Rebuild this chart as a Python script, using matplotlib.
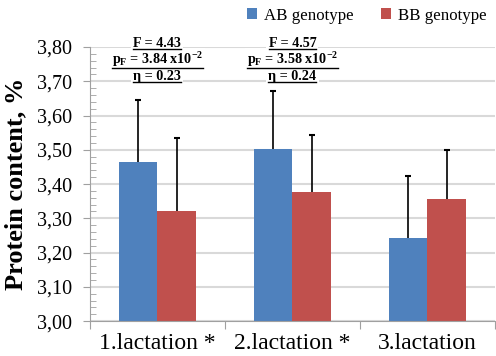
import matplotlib.pyplot as plt
import numpy as np
from matplotlib.lines import Line2D

plt.rcParams['font.family'] = ['Liberation Serif', 'DejaVu Serif']
plt.rcParams['mathtext.fontset'] = 'custom'
plt.rcParams['mathtext.rm'] = 'Liberation Serif'
plt.rcParams['mathtext.bf'] = 'Liberation Serif:bold'
plt.rcParams['mathtext.it'] = 'Liberation Serif:italic'

categories = ['1.lactation *', '2.lactation *', '3.lactation']
ab_vals = [3.464, 3.501, 3.242]
bb_vals = [3.320, 3.376, 3.357]
ab_err = [0.180, 0.170, 0.181]
bb_err = [0.213, 0.167, 0.143]
stats = [
    ['F = 4.43', r'p$_\mathbf{F}$ = 3.84 x10$^{\mathbf{-2}}$', 'η = 0.23'],
    ['F = 4.57', r'p$_\mathbf{F}$ = 3.58 x10$^{\mathbf{-2}}$', 'η = 0.24'],
]
yticks = np.arange(3.0, 3.81, 0.1)

fig = plt.figure(figsize=(4.96, 3.56), dpi=100)
ax = fig.add_axes([0.181, 0.098, 0.817, 0.77])

x = np.arange(len(categories))
w = 0.285
ax.bar(x - w/2, ab_vals, w, color='#4f81bd', label='AB genotype', zorder=2)
ax.bar(x + w/2, bb_vals, w, color='#c0504d', label='BB genotype', zorder=2)
# upper-only error bars
for xs, vals, errs in [(x - w/2, ab_vals, ab_err), (x + w/2, bb_vals, bb_err)]:
    tops = np.array(vals) + np.array(errs)
    ax.vlines(xs, vals, tops, color='black', linewidth=1.2, zorder=3)
    ax.plot(xs, tops, linestyle='none', marker='_', markersize=5,
            markeredgewidth=1.5, color='black', zorder=3)

ax.set_ylim(3.0, 3.8)
ax.set_xlim(-0.5, 2.5)
ax.set_yticks(yticks)
ax.set_yticklabels([('%.2f' % v).replace('.', ',') for v in yticks], fontsize=14.5)
ax.set_yticks(np.arange(3.0, 3.81, 0.02), minor=True)
ax.tick_params(axis='y', which='major', direction='out', length=5, color='#a0a0a0', pad=8)
ax.tick_params(axis='y', which='minor', direction='in', length=4, color='#a0a0a0')
ax.yaxis.grid(True, which='major', color='#d9d9d9', linewidth=1.5, zorder=0)
ax.set_axisbelow(True)

ax.set_xticks([-0.5, 0.5, 1.5, 2.5])
ax.set_xticklabels([])
ax.set_xticks(x, minor=True)
ax.set_xticklabels(categories, minor=True, fontsize=17)
ax.tick_params(axis='x', which='minor', length=0, pad=8.5)
ax.tick_params(axis='x', which='major', direction='out', length=6, color='#a0a0a0')

for s in ['top', 'right']:
    ax.spines[s].set_visible(False)
for s in ['left', 'bottom']:
    ax.spines[s].set_color('#a0a0a0')

ax.set_ylabel('Protein content, %', fontsize=19, fontweight='bold')
ax.yaxis.set_label_coords(-0.153, 0.5)

ys = [3.809, 3.762, 3.715]
texts = []
for i, lines in enumerate(stats):
    for t, yy in zip(lines, ys):
        txt = ax.text(i, yy, t, ha='center', va='center', fontsize=10.2, fontweight='bold',
                      clip_on=False, zorder=5,
                      bbox=dict(facecolor='white', edgecolor='none', pad=1.5))
        texts.append(txt)

ax.legend(loc='lower right', bbox_to_anchor=(0.995, 1.06), ncol=2, frameon=False,
          fontsize=12.2, handlelength=0.6, handleheight=0.6, handletextpad=0.4,
          columnspacing=1.6, borderaxespad=0)

# underline the statistics text
fig.canvas.draw()
r = fig.canvas.get_renderer()
W, H = fig.bbox.width, fig.bbox.height
for txt in texts:
    bb = txt.get_window_extent(r)
    yl = (bb.y0 + 1) / H
    fig.add_artist(Line2D([bb.x0 / W, bb.x1 / W], [yl, yl], color='black',
                          linewidth=1, zorder=6))

fig.savefig('out.png', dpi=100)
